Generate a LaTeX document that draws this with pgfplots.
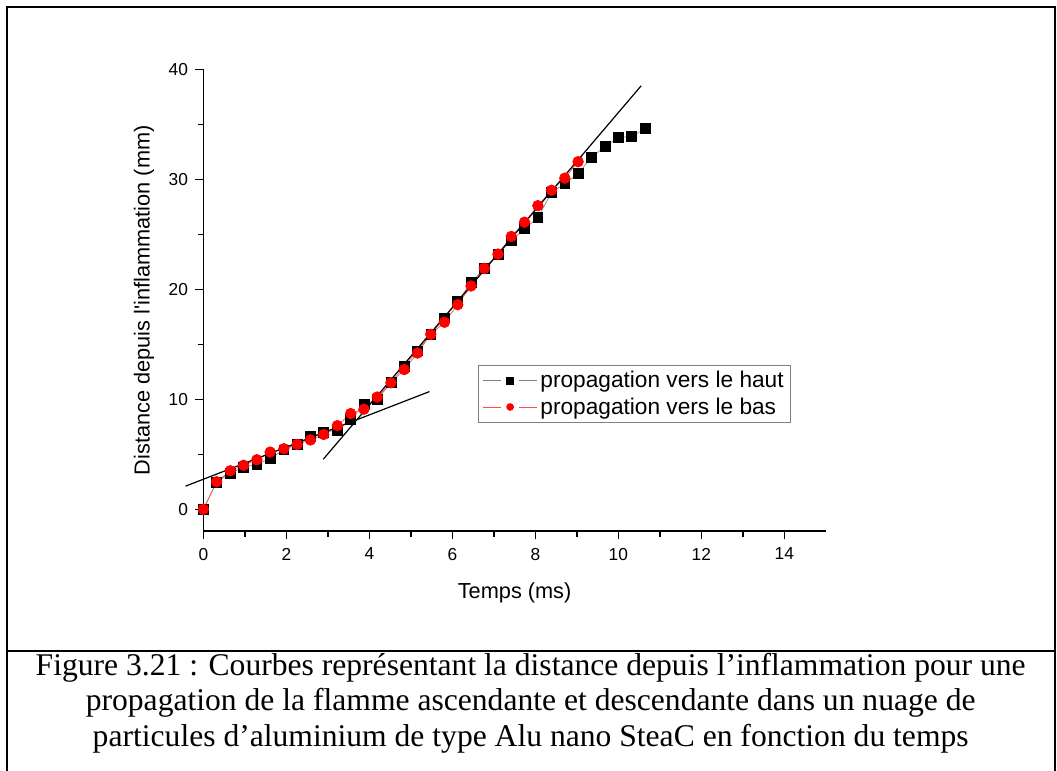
\documentclass[border=0pt]{standalone}
\usepackage{pgfplots}
\pgfplotsset{compat=1.18}
\usepackage{fontspec}
\setmainfont{Liberation Serif}
\newfontfamily\arial{Liberation Sans}

\pgfplotstableread{
t     d
0     0
0.32  2.45
0.65  3.3
0.97  3.8
1.29  4.1
1.61  4.6
1.94  5.4
2.26  5.9
2.58  6.6
2.90  7.0
3.23  7.2
3.55  8.2
3.87  9.5
4.19  10.0
4.52  11.5
4.84  13.0
5.16  14.4
5.48  15.9
5.81  17.4
6.13  18.9
6.45  20.6
6.77  21.9
7.10  23.2
7.42  24.4
7.74  25.5
8.06  26.5
8.39  28.8
8.71  29.6
9.03  30.5
9.35  32.0
9.68  33.0
10.00 33.8
10.32 33.9
10.65 34.6
}\haut

\pgfplotstableread{
t     d
0     0
0.32  2.5
0.65  3.5
0.97  4.0
1.29  4.5
1.61  5.2
1.94  5.5
2.26  5.9
2.58  6.3
2.90  6.8
3.23  7.6
3.55  8.7
3.87  9.1
4.19  10.2
4.52  11.5
4.84  12.7
5.16  14.2
5.48  15.9
5.81  17.0
6.13  18.6
6.45  20.3
6.77  21.9
7.10  23.2
7.42  24.8
7.74  26.1
8.06  27.6
8.39  29.0
8.71  30.1
9.03  31.6
}\bas

\begin{document}
\begin{tikzpicture}[x=1pt,y=1pt]
\useasboundingbox (0,0) rectangle (792.75,578.25);
% cadre de la figure
\draw[line width=1.5pt] (5.25,-2) -- (5.25,573) -- (791.25,573) -- (791.25,-2);
\draw[line width=1.5pt] (5.25,90) -- (791.25,90);
\node[align=center, font=\fontsize{23.7}{26.6}\selectfont] at (398,51)
  {Figure 3.21 : Courbes représentant la distance depuis l’inflammation pour une\\
   propagation de la flamme ascendante et descendante dans un nuage de\\
   particules d’aluminium de type Alu nano SteaC en fonction du temps};

\begin{axis}[
  at={(152.5pt,179.8pt)}, anchor=south west,
  scale only axis, width=466.9pt, height=346.5pt,
  xmin=0, xmax=15, ymin=-2, ymax=40,
  axis x line*=bottom, axis y line*=left,
  axis line style={line width=1.2pt, -},
  xtick={0,2,...,14}, ytick={0,10,...,40},
  minor x tick num=1, minor y tick num=1,
  tick align=outside,
  major tick length=6pt, minor tick length=4pt,
  tick style={line width=1pt, black},
  /pgf/number format/assume math mode=true,
  tick label style={font=\arial\fontsize{13}{15}\selectfont},
  xticklabel style={yshift=-3pt},
  yticklabel style={xshift=-2pt},
  xlabel={Temps (ms)},
  ylabel={Distance depuis l'inflammation (mm)},
  label style={font=\arial\fontsize{16.3}{19}\selectfont},
  x label style={at={(axis description cs:0.5,0)}, anchor=center, yshift=-46pt},
  y label style={at={(axis description cs:0,0.5)}, anchor=center, yshift=44.5pt},
  clip=false,
  legend style={at={(axis cs:6.62,13.12)}, anchor=north west, draw=gray,
    line width=0.6pt, font=\arial\fontsize{17}{20}\selectfont,
    inner xsep=3pt, inner ysep=2.5pt, row sep=2pt, cells={anchor=west}},
  legend image code/.code={
    \draw[#1] (0pt,0pt) -- (14pt,0pt);
    \draw[#1] (27pt,0pt) -- (41pt,0pt);
    \path[#1, mark size=2.6pt] plot coordinates {(20.5pt,0pt)};},
]
\addplot[gray, line width=0.5pt, mark=square*, mark size=3.7pt,
  mark options={solid, fill=black, draw=black}] table[x=t, y=d] {\haut};
\addlegendentry{propagation vers le haut}
\addplot[red!70, line width=0.5pt, mark=*, mark size=4pt,
  mark options={solid, fill=red, draw=red}] table[x=t, y=d] {\bas};
\addlegendentry{propagation vers le bas}
% droites de tendance
\addplot[black, line width=0.9pt, forget plot] coordinates {(-0.43,2.1) (5.45,10.7)};
\addplot[black, line width=0.9pt, forget plot] coordinates {(2.89,4.55) (10.55,38.5)};
\end{axis}
\end{tikzpicture}
\end{document}
